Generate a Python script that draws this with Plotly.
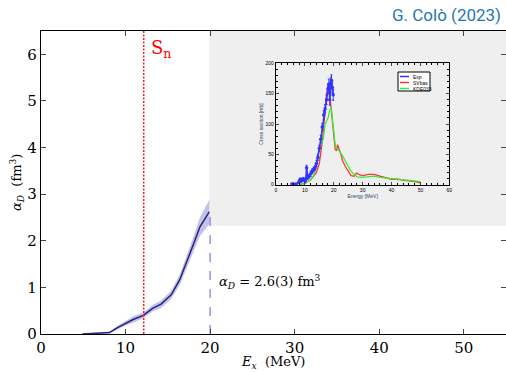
import plotly.graph_objects as go

# ---- main curve: dipole polarizability running sum ----
ex = [4.9, 6.0, 7.0, 8.1, 9.0, 10.0, 10.9, 12.1, 13.2, 14.2, 15.4, 16.4, 17.2, 18.0, 18.8, 19.9]
alpha = [0.0, 0.005, 0.01, 0.03, 0.13, 0.23, 0.31, 0.40, 0.55, 0.64, 0.84, 1.16, 1.52, 1.91, 2.30, 2.62]
alpha_err = [0.0, 0.005, 0.01, 0.02, 0.04, 0.05, 0.07, 0.06, 0.07, 0.08, 0.09, 0.11, 0.13, 0.16, 0.20, 0.26]
sn_energy = 12.15
alpha_final_e = 20.0
alpha_final = 2.62

# ---- inset: photoabsorption cross section ----
exp_e = [5.5, 6.0, 7.0, 8.0, 8.3, 8.7, 9.0, 9.5, 10.0, 10.3, 10.6, 11.0, 11.5, 12.0, 12.5, 13.0, 13.5,
         14.0, 14.5, 15.0, 15.5, 16.0, 16.5, 17.0, 17.5, 18.0, 18.3, 18.6, 19.0, 19.2, 19.5, 19.8]
exp_xs = [1, 1, 1, 5, 8, 7, 8, 9, 6, 9, 28, 12, 14, 18, 22, 25, 28,
          35, 45, 60, 75, 95, 115, 125, 140, 158, 165, 140, 168, 172, 160, 148]
exp_err = [1, 1, 1, 3, 3, 3, 3, 3, 3, 3, 4, 3, 3, 4, 4, 4, 4,
           5, 5, 5, 6, 6, 7, 7, 8, 8, 9, 9, 9, 9, 9, 9]
svbas_e = [8, 10, 12, 14, 15, 16, 17, 17.5, 18.2, 18.8, 19.5, 20, 20.5, 21, 21.3, 22.5, 23, 24, 25, 26,
           27, 27.9, 29, 30, 32, 34, 36, 38, 40, 42, 44, 46, 48, 50]
svbas_xs = [0, 2, 8, 20, 35, 70, 120, 150, 168, 140, 100, 75, 58, 56, 66, 50, 40, 30, 22, 15,
            14, 19, 16, 15, 17, 17, 14, 11, 9, 9, 8, 6, 5, 3]
kde_e = [8, 10, 12, 13, 14, 15, 15.5, 16, 16.5, 17, 17.5, 18, 18.5, 19.1, 19.5, 20, 20.5, 21, 22, 23,
         24, 25, 26, 27, 28, 30, 32, 34, 36, 38, 40, 42, 44, 46, 48, 50]
kde_xs = [0, 2, 8, 15, 30, 55, 68, 70, 80, 100, 105, 110, 120, 128, 110, 80, 65, 60, 55, 48,
          38, 30, 22, 18, 13, 12, 13, 14, 12, 11, 10, 10, 9, 8, 7, 5]
inset_names = ["Exp", "SVbas", "KDE033"]
inset_colors = ["#3333ff", "#ff3333", "#33ee33"]

serif = "DejaVu Serif"
navy = "rgb(35,35,125)"

fig = go.Figure()

# band
fig.add_trace(go.Scatter(x=ex + ex[::-1],
                         y=[a + e for a, e in zip(alpha, alpha_err)] + [a - e for a, e in zip(alpha[::-1], alpha_err[::-1])],
                         fill="toself", fillcolor="rgba(110,110,200,0.42)", line=dict(width=0),
                         hoverinfo="skip", showlegend=False, xaxis="x", yaxis="y"))
fig.add_trace(go.Scatter(x=ex, y=alpha, mode="lines", line=dict(color=navy, width=1.5),
                         showlegend=False, xaxis="x", yaxis="y"))
# Sn line
fig.add_trace(go.Scatter(x=[sn_energy, sn_energy], y=[0, 6.5], mode="lines",
                         line=dict(color="#ff1a1a", width=1.5, dash="2px,1.5px"), showlegend=False))
# final alpha line
fig.add_trace(go.Scatter(x=[alpha_final_e, alpha_final_e], y=[0, alpha_final], mode="lines",
                         line=dict(color="rgb(110,110,210)", width=1.1, dash="dash"), showlegend=False))

# inset traces
fig.add_trace(go.Scatter(x=svbas_e, y=svbas_xs, mode="lines", line=dict(color=inset_colors[1], width=1.3),
                         showlegend=False, xaxis="x2", yaxis="y2"))
fig.add_trace(go.Scatter(x=kde_e, y=kde_xs, mode="lines", line=dict(color=inset_colors[2], width=1.3),
                         showlegend=False, xaxis="x2", yaxis="y2"))
fig.add_trace(go.Scatter(x=exp_e, y=exp_xs, mode="lines+markers",
                         line=dict(color=inset_colors[0], width=1.5),
                         marker=dict(color=inset_colors[0], size=3.5),
                         error_y=dict(array=exp_err, color=inset_colors[0], thickness=1, width=1),
                         showlegend=False, xaxis="x2", yaxis="y2"))

# geometry helpers (paper coords)
x0p, x1p, y0p, y1p = 41, 506, 31, 334
def px(x):
    return (x - x0p) / (x1p - x0p)
def py(y):
    return (y1p - y) / (y1p - y0p)

shapes = [
    dict(type="rect", xref="x", yref="y", x0=19.9, x1=55, y0=2.32, y1=6.5,
         fillcolor="rgb(239,239,239)", line=dict(width=0), layer="below"),
    dict(type="rect", xref="paper", yref="paper", x0=px(253), x1=px(461), y0=py(204), y1=py(52),
         fillcolor="white", line=dict(width=0), layer="below"),
    # inset legend box
    dict(type="rect", xref="paper", yref="paper", x0=px(398), x1=px(430), y0=py(91), y1=py(72),
         fillcolor="white", line=dict(color="black", width=1)),
]
annotations = [
    dict(text="G. Colò (2023)", xref="paper", yref="paper", x=px(503), y=py(15), xanchor="right",
         yanchor="middle", showarrow=False, font=dict(family="Roboto", size=17, color="rgb(31,119,180)")),
    dict(text="S<sub>n</sub>", xref="x", yref="y", x=12.75, y=6.12, xanchor="left", yanchor="middle",
         showarrow=False, font=dict(family=serif, size=18, color="red")),
    dict(text="<i>α</i><sub><i>D</i></sub> = 2.6(3) fm<sup>3</sup>", xref="x", yref="y", x=20.8, y=1.12,
         xanchor="left", yanchor="middle", showarrow=False, font=dict(family=serif, size=13, color="black")),
    # axis titles
    dict(text="<i>E</i><sub><i>x</i></sub>  (MeV)", xref="paper", yref="paper", x=px(273), y=py(362),
         xanchor="center", yanchor="middle", showarrow=False, font=dict(family=serif, size=13, color="black")),
    dict(text="<i>α</i><sub><i>D</i></sub>  (fm<sup>3</sup>)", xref="paper", yref="paper", x=px(17), y=py(183),
         xanchor="center", yanchor="middle", textangle=-90, showarrow=False,
         font=dict(family=serif, size=13, color="black")),
]
for i, (name, col) in enumerate(zip(inset_names, inset_colors)):
    yy = 76.5 + i * 6
    shapes.append(dict(type="line", xref="paper", yref="paper", x0=px(400), x1=px(409), y0=py(yy), y1=py(yy),
                       line=dict(color=col, width=1.5)))
    annotations.append(dict(text=name, xref="paper", yref="paper", x=px(411), y=py(yy), xanchor="left",
                            yanchor="middle", showarrow=False, font=dict(family="Liberation Sans", size=5, color="black")))

axis_common = dict(showline=True, linecolor="black", linewidth=1.2, mirror="ticks", ticks="inside",
                   zeroline=False, showgrid=False, automargin=False)

fig.update_layout(
    width=506, height=372,
    margin=dict(l=x0p, r=0, t=y0p, b=372 - y1p, autoexpand=False),
    paper_bgcolor="white", plot_bgcolor="rgba(0,0,0,0)",
    showlegend=False,
    shapes=shapes, annotations=annotations,
    xaxis=dict(range=[0, 55], tickvals=[0, 10, 20, 30, 40, 50], ticklen=5,
               tickfont=dict(family=serif, size=15, color="black"),
               **axis_common),
    yaxis=dict(range=[0, 6.5], tickvals=[0, 1, 2, 3, 4, 5, 6], ticklen=5,
               tickfont=dict(family=serif, size=15, color="black"),
               **axis_common),
    xaxis2=dict(domain=[px(276), px(449.3)], anchor="y2", range=[0, 60], tickvals=[0, 10, 20, 30, 40, 50, 60],
                ticklen=3, tickwidth=0.8, tickfont=dict(family="Liberation Sans", size=5, color="black"),
                minor=dict(dtick=2, ticks="inside", ticklen=2, tickcolor="black"),
                title=dict(text="Energy [MeV]", font=dict(family="Liberation Sans", size=5), standoff=1),
                showline=True, linecolor="black", linewidth=1.2, mirror="ticks", ticks="inside",
                zeroline=False, showgrid=False, automargin=False),
    yaxis2=dict(domain=[py(184.7), py(63.3)], anchor="x2", range=[0, 200], tickvals=[0, 50, 100, 150, 200],
                ticklen=3, tickwidth=0.8, tickfont=dict(family="Liberation Sans", size=5, color="black"),
                minor=dict(dtick=10, ticks="inside", ticklen=2, tickcolor="black"),
                title=dict(text="Cross section [mb]", font=dict(family="Liberation Sans", size=5), standoff=1),
                showline=True, linecolor="black", linewidth=1.2, mirror="ticks", ticks="inside",
                zeroline=False, showgrid=False, automargin=False),
)

fig.write_html("out.html", config={"displayModeBar": False},
               post_script="document.body.style.margin='0px';")
